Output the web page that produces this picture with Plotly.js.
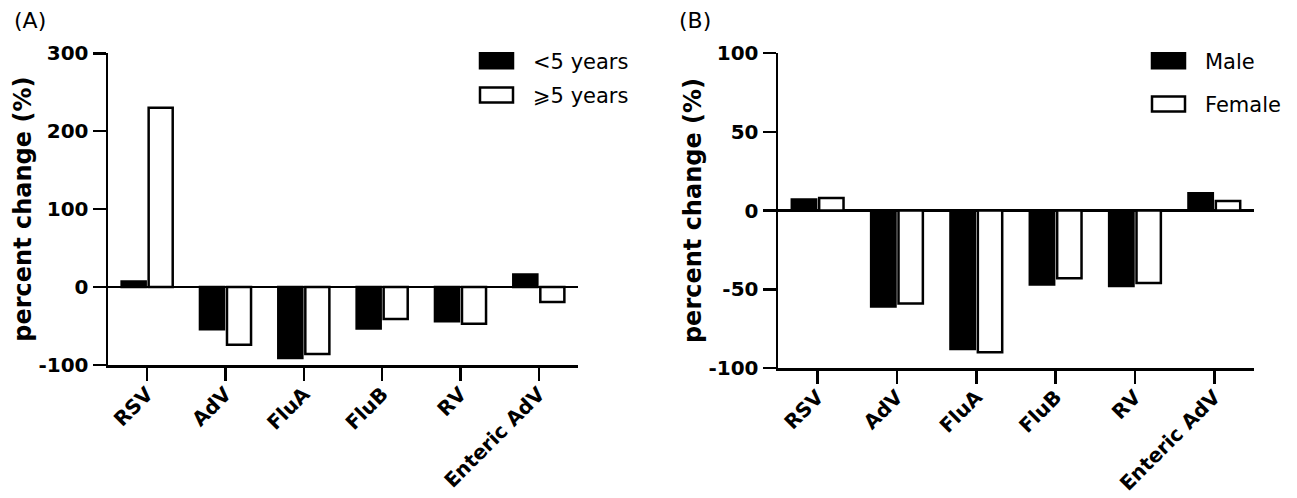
<!DOCTYPE html>
<html>
<head>
<meta charset="utf-8">
<script src="https://cdn.plot.ly/plotly-3.0.1.min.js"></script>
<style>html,body{margin:0;padding:0;background:#fff;}#chart{width:1297px;height:498px;}</style>
</head>
<body>
<div id="chart"></div>
<script>
const categories = ['RSV', 'AdV', 'FluA', 'FluB', 'RV', 'Enteric AdV'];
const ageUnder5 = [7, -54, -91, -53, -44, 16];
const ageOver5 = [230, -74, -86, -41, -47, -19];
const male = [7, -61, -88, -47, -48, 11];
const female = [8, -59, -90, -43, -46, 6];
const legendA = ['<5 years', '\u2A7E5 years'];
const legendB = ['Male', 'Female'];
const yTicksA = [-100, 0, 100, 200, 300];
const yTickTextA = ['-100', '0', '100', '200', '300'];
const yTicksB = [-100, -50, 0, 50, 100];
const yTickTextB = ['-100', '-50', '0', '50', '100'];
const yTitle = 'percent change (%)';
const panelLabels = ['(A)', '(B)'];

const W = 1297, H = 498;
const px = x => x / W;
const py = y => 1 - y / H;

const LW = 2.5;
const FAM = 'DejaVu Sans, Arial, sans-serif';
const yTickFont = {family: FAM, size: 20, color: '#000', weight: 700};
const xTickFont = {family: FAM, size: 20, color: '#000', weight: 700};
const titleFont = {family: FAM, size: 24, color: '#000', weight: 700};
const textFont = {family: FAM, size: 21, color: '#000'};

function bar(y, name, filled, xa, ya) {
  return {
    type: 'bar', x: categories, y: y, name: name, xaxis: xa, yaxis: ya,
    marker: {color: filled ? '#000' : '#fff', line: {color: '#000', width: LW}},
    showlegend: false, hoverinfo: 'skip'
  };
}

const data = [
  bar(ageUnder5, legendA[0], true, 'x', 'y'),
  bar(ageOver5, legendA[1], false, 'x', 'y'),
  bar(male, legendB[0], true, 'x2', 'y2'),
  bar(female, legendB[1], false, 'x2', 'y2')
];

function xAxis(domain, anchor) {
  return {
    domain: domain, anchor: anchor, type: 'category', range: [-0.5, 5.5],
    showline: true, linewidth: LW, linecolor: '#000', mirror: false,
    ticks: 'outside', ticklen: 13, tickwidth: LW, tickcolor: '#000',
    tickangle: -45, tickfont: xTickFont, ticklabelstandoff: -6,
    showgrid: false, zeroline: false, fixedrange: true
  };
}
function yAxis(domain, anchor, range, tickvals, ticktext) {
  return {
    domain: domain, anchor: anchor, range: range, tickvals: tickvals, ticktext: ticktext,
    showline: true, linewidth: LW, linecolor: '#000',
    ticks: 'outside', ticklen: 13, tickwidth: LW, tickcolor: '#000',
    tickfont: yTickFont, showgrid: false,
    zeroline: true, zerolinewidth: LW, zerolinecolor: '#000',
    title: {text: yTitle, font: titleFont, standoff: 0},
    fixedrange: true
  };
}

const shapes = [];
const annotations = [];
function legendItem(x0, yc, label, filled) {
  shapes.push({type: 'rect', xref: 'paper', yref: 'paper',
    x0: px(x0), x1: px(x0 + 33), y0: py(yc - 7.5), y1: py(yc + 7.5),
    fillcolor: filled ? '#000' : '#fff', line: {color: '#000', width: LW}});
  annotations.push({xref: 'paper', yref: 'paper', x: px(x0 + 51), y: py(yc + 1),
    xanchor: 'left', yanchor: 'middle', text: label, showarrow: false, font: textFont});
}
legendItem(480, 60.7, legendA[0], true);
legendItem(480, 95, legendA[1], false);
legendItem(1152, 60.7, legendB[0], true);
legendItem(1152, 104, legendB[1], false);

annotations.push({xref: 'paper', yref: 'paper', x: px(12), y: py(20), xanchor: 'left', yanchor: 'middle',
  text: panelLabels[0], showarrow: false, font: Object.assign({}, textFont, {size: 22})});
annotations.push({xref: 'paper', yref: 'paper', x: px(677), y: py(20), xanchor: 'left', yanchor: 'middle',
  text: panelLabels[1], showarrow: false, font: Object.assign({}, textFont, {size: 22})});

const layout = {
  width: W, height: H,
  margin: {l: 0, r: 0, t: 0, b: 0},
  paper_bgcolor: '#fff', plot_bgcolor: '#fff',
  barmode: 'group', bargap: 0.31, bargroupgap: 0.11,
  xaxis: xAxis([px(108), px(578)], 'y'),
  yaxis: yAxis([py(365), py(53.3)], 'x', [-100, 300], yTicksA, yTickTextA),
  xaxis2: xAxis([px(778), px(1254)], 'y2'),
  yaxis2: yAxis([py(368), py(53)], 'x2', [-100, 100], yTicksB, yTickTextB),
  shapes: shapes, annotations: annotations
};

Plotly.newPlot('chart', data, layout, {staticPlot: true, displayModeBar: false});
</script>
</body>
</html>
